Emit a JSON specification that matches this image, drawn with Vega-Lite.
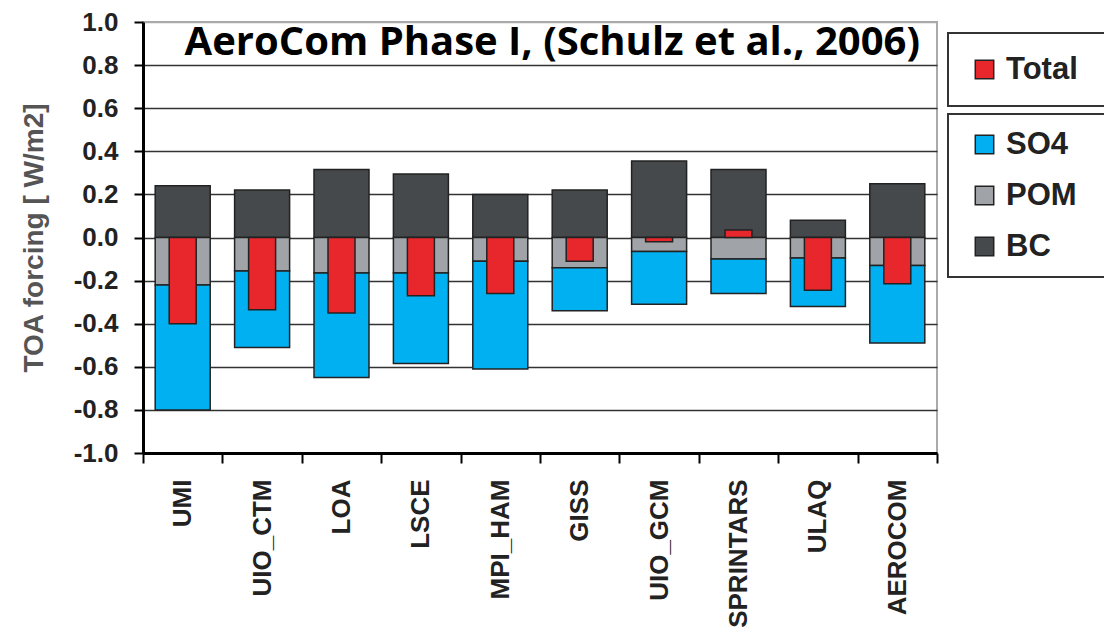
{
  "$schema": "https://vega.github.io/schema/vega-lite/v6.json",
  "width": 794,
  "height": 431,
  "autosize": {"type": "none"},
  "padding": {"left": 143, "top": 22, "right": 167, "bottom": 184},
  "background": "white",
  "title": {
    "text": "AeroCom Phase I, (Schulz et al., 2006)",
    "font": "Open Sans",
    "fontWeight": "bold",
    "fontSize": 40,
    "color": "black",
    "anchor": "end",
    "frame": "group",
    "orient": "top",
    "offset": -86,
    "dx": -17,
    "baseline": "alphabetic"
  },
  "data": {
    "values": [
      {"model": "UMI", "comp": "BC", "value": 0.24},
      {"model": "UMI", "comp": "POM", "value": -0.22},
      {"model": "UMI", "comp": "SO4", "value": -0.58},
      {"model": "UMI", "comp": "Total", "value": -0.40},
      {"model": "UIO_CTM", "comp": "BC", "value": 0.22},
      {"model": "UIO_CTM", "comp": "POM", "value": -0.155},
      {"model": "UIO_CTM", "comp": "SO4", "value": -0.355},
      {"model": "UIO_CTM", "comp": "Total", "value": -0.335},
      {"model": "LOA", "comp": "BC", "value": 0.315},
      {"model": "LOA", "comp": "POM", "value": -0.165},
      {"model": "LOA", "comp": "SO4", "value": -0.485},
      {"model": "LOA", "comp": "Total", "value": -0.35},
      {"model": "LSCE", "comp": "BC", "value": 0.295},
      {"model": "LSCE", "comp": "POM", "value": -0.165},
      {"model": "LSCE", "comp": "SO4", "value": -0.42},
      {"model": "LSCE", "comp": "Total", "value": -0.27},
      {"model": "MPI_HAM", "comp": "BC", "value": 0.20},
      {"model": "MPI_HAM", "comp": "POM", "value": -0.11},
      {"model": "MPI_HAM", "comp": "SO4", "value": -0.50},
      {"model": "MPI_HAM", "comp": "Total", "value": -0.26},
      {"model": "GISS", "comp": "BC", "value": 0.22},
      {"model": "GISS", "comp": "POM", "value": -0.14},
      {"model": "GISS", "comp": "SO4", "value": -0.20},
      {"model": "GISS", "comp": "Total", "value": -0.11},
      {"model": "UIO_GCM", "comp": "BC", "value": 0.355},
      {"model": "UIO_GCM", "comp": "POM", "value": -0.065},
      {"model": "UIO_GCM", "comp": "SO4", "value": -0.245},
      {"model": "UIO_GCM", "comp": "Total", "value": -0.02},
      {"model": "SPRINTARS", "comp": "BC", "value": 0.315},
      {"model": "SPRINTARS", "comp": "POM", "value": -0.10},
      {"model": "SPRINTARS", "comp": "SO4", "value": -0.16},
      {"model": "SPRINTARS", "comp": "Total", "value": 0.035},
      {"model": "ULAQ", "comp": "BC", "value": 0.08},
      {"model": "ULAQ", "comp": "POM", "value": -0.095},
      {"model": "ULAQ", "comp": "SO4", "value": -0.225},
      {"model": "ULAQ", "comp": "Total", "value": -0.245},
      {"model": "AEROCOM", "comp": "BC", "value": 0.25},
      {"model": "AEROCOM", "comp": "POM", "value": -0.13},
      {"model": "AEROCOM", "comp": "SO4", "value": -0.36},
      {"model": "AEROCOM", "comp": "Total", "value": -0.215}
    ]
  },
  "encoding": {
    "x": {
      "field": "model",
      "type": "nominal",
      "sort": null,
      "scale": {"paddingInner": 0, "paddingOuter": 0},
      "axis": {
        "title": null,
        "labelAngle": 270,
        "labelPadding": 16,
        "tickSize": 10,
        "tickBand": "extent",
        "tickColor": "black",
        "tickWidth": 2,
        "domainColor": "black",
        "domainWidth": 3,
        "labelFont": "Liberation Sans",
        "labelFontWeight": "bold",
        "labelFontSize": 26,
        "labelColor": "#222",
        "grid": false
      }
    }
  },
  "layer": [
    {
      "transform": [{"filter": "datum.comp !== 'Total'"}],
      "mark": {"type": "bar", "width": 55, "stroke": "#222", "strokeWidth": 1.5},
      "encoding": {
        "y": {
          "field": "value",
          "type": "quantitative",
          "scale": {"domain": [-1, 1], "nice": false},
          "axis": {
            "values": [-1, -0.8, -0.6, -0.4, -0.2, 0, 0.2, 0.4, 0.6, 0.8, 1],
            "labelExpr": "replace(format(datum.value, '.1f'), '\u2212', '-')",
            "tickSize": 9,
            "tickColor": "black",
            "tickWidth": 2,
            "domainColor": "black",
            "domainWidth": 3,
            "labelPadding": 16,
            "labelFont": "Liberation Sans",
            "labelFontWeight": "bold",
            "labelFontSize": 26,
            "labelColor": "#222",
            "grid": true,
            "gridColor": {"condition": {"test": "datum.value === 1", "value": "#aaaaaa"}, "value": "#333333"},
            "gridWidth": 1.5,
            "title": "TOA forcing [ W/m2]",
            "titleFont": "Liberation Sans",
            "titleFontWeight": "bold",
            "titleFontSize": 28,
            "titleColor": "#555",
            "titlePadding": 25
          }
        },
        "color": {
          "field": "comp",
          "type": "nominal",
          "scale": {"domain": ["SO4", "POM", "BC"], "range": ["#00b0f0", "#a0a4a8", "#45494b"]},
          "legend": {
            "orient": "none",
            "legendX": 805,
            "legendY": 92,
            "title": " ",
            "titleOrient": "right",
            "titleFontSize": 10,
            "titlePadding": 45,
            "padding": 15,
            "symbolOffset": 6,
            "rowPadding": 19
          }
        },
        "order": {"field": "comp"}
      }
    },
    {
      "transform": [{"filter": "datum.comp === 'Total'"}],
      "mark": {"type": "bar", "width": 27, "stroke": "#222", "strokeWidth": 1.5},
      "encoding": {
        "y": {"field": "value", "type": "quantitative", "stack": null},
        "fill": {
          "field": "comp",
          "type": "nominal",
          "scale": {"domain": ["Total"], "range": ["#e8272c"]},
          "legend": {
            "orient": "none",
            "legendX": 805,
            "legendY": 11,
            "title": " ",
            "titleOrient": "right",
            "titleFontSize": 10,
            "titlePadding": 45,
            "padding": 21,
            "symbolOffset": 0
          }
        }
      }
    }
  ],
  "config": {
    "view": {"stroke": "#aaaaaa", "strokeWidth": 2},
    "legend": {
      "strokeColor": "#333",
      "strokeWidth": 2,
      "fillColor": "white",
      "symbolType": "square",
      "symbolSize": 340,
      "symbolStrokeColor": "#222",
      "symbolStrokeWidth": 1.5,
      "labelOffset": 6,
      "labelFont": "Liberation Sans",
      "labelFontWeight": "bold",
      "labelFontSize": 31,
      "labelColor": "#222"
    }
  }
}
